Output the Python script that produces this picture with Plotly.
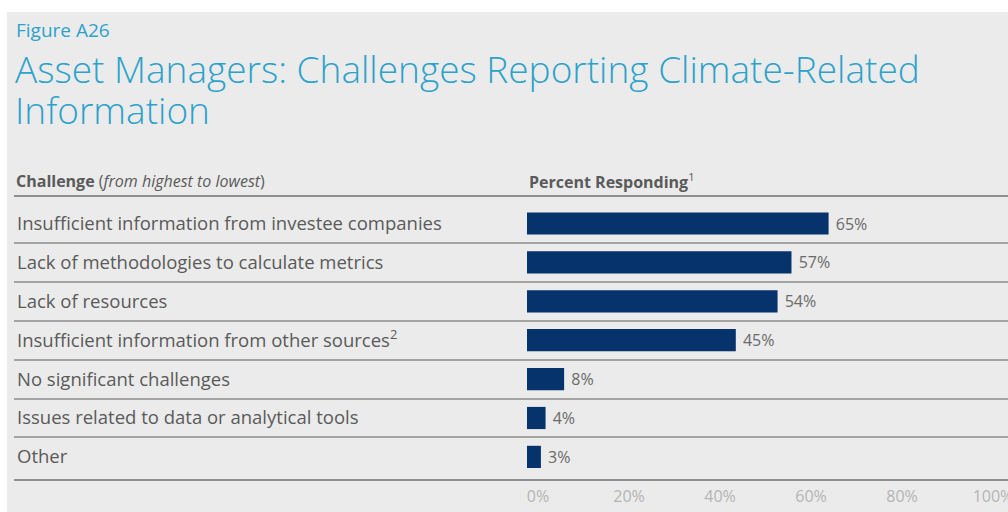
import plotly.graph_objects as go

# Data
challenges = [
    "Insufficient information from investee companies",
    "Lack of methodologies to calculate metrics",
    "Lack of resources",
    "Insufficient information from other sources<sup>2</sup>",
    "No significant challenges",
    "Issues related to data or analytical tools",
    "Other",
]
percent_responding = [65, 57, 54, 45, 8, 4, 3]
axis_ticks = [0, 20, 40, 60, 80, 100]
axis_tick_labels = ["0%", "20%", "40%", "60%", "80%", "100%"]

COLORS = {
    'bg': '#ebebeb',
    'title': '#2ba2cb',
    'bar': '#07336d',
    'text': '#5a5a5a',
    'value': '#6a6a6a',
    'rule': '#a3a3a3',
    'tick': '#b4b4b4',
}
FONT = "Open Sans, Noto Sans, sans-serif"

W, H = 1008, 512
rows = list(range(len(challenges)))

fig = go.Figure()

fig.add_trace(go.Bar(
    x=percent_responding,
    y=rows,
    orientation='h',
    width=0.57,
    marker=dict(color=COLORS['bar'], line=dict(width=0)),
    text=[f" {v}%" for v in percent_responding],
    textposition='outside',
    textfont=dict(size=16, color=COLORS['value'], family=FONT),
    cliponaxis=False,
    hoverinfo='skip',
    showlegend=False,
))

# invisible trace so the label axis gets drawn
fig.add_trace(go.Scatter(
    x=[axis_ticks[0], axis_ticks[-1]], y=[rows[0], rows[0]],
    xaxis='x2', mode='markers', marker=dict(opacity=0, size=1),
    hoverinfo='skip', showlegend=False,
))

# pixel geometry helpers
left_px, zero_px, px_per_pct = 14, 527, 4.64
lab_zero_px, lab_px_per_pct = 538, 4.55
top_px, bottom_px = 197, 479
row0_px, row_px = 223.5, 38.9

fig.update_layout(
    width=W, height=H,
    margin=dict(l=0, r=0, t=0, b=0),
    paper_bgcolor='white',
    plot_bgcolor='rgba(0,0,0,0)',
    font=dict(family=FONT, color=COLORS['text']),
    xaxis=dict(
        domain=[left_px / W, 1],
        range=[-(zero_px - left_px) / px_per_pct, (W - zero_px) / px_per_pct],
        showticklabels=False, showgrid=False, zeroline=False,
        showline=True, mirror=True, linecolor='#8f8f8f', linewidth=1.5,
        automargin=False, fixedrange=True,
    ),
    xaxis2=dict(
        domain=[left_px / W, 1],
        overlaying='x', anchor='y', side='bottom',
        range=[-(lab_zero_px - left_px) / lab_px_per_pct, (W - lab_zero_px) / lab_px_per_pct],
        tickmode='array', tickvals=axis_ticks, ticktext=axis_tick_labels,
        tickfont=dict(size=16, color=COLORS['tick'], family=FONT),
        ticks='', ticklabelstandoff=6, ticklabeloverflow='allow',
        showgrid=False, zeroline=False, showline=False,
        automargin=False, fixedrange=True,
    ),
    yaxis=dict(
        domain=[1 - bottom_px / H, 1 - top_px / H],
        range=[(bottom_px - row0_px) / row_px, -(row0_px - top_px) / row_px],
        tickmode='array', tickvals=rows, ticktext=challenges,
        ticklabelposition='inside', ticklabelstandoff=0, ticks='',
        tickfont=dict(size=18.5, color=COLORS['text'], family=FONT),
        showgrid=False, zeroline=False, showline=False,
        minor=dict(tickmode='array', tickvals=[r + 0.5 for r in rows[:-1]],
                   showgrid=True, gridcolor=COLORS['rule'], gridwidth=1.5, ticks=''),
        automargin=False, fixedrange=True,
    ),
    shapes=[
        dict(type='rect', xref='paper', yref='paper', x0=7 / W, x1=1, y0=0, y1=1 - 12 / H,
             fillcolor=COLORS['bg'], line=dict(width=0), layer='below'),
    ],
    annotations=[
        dict(text="Figure A26", xref='paper', yref='paper', x=14 / W, y=1 - 30 / H,
             xanchor='left', yanchor='middle', showarrow=False,
             font=dict(size=19, color=COLORS['title'], family=FONT)),
        dict(text="Asset Managers: Challenges Reporting Climate-Related", xref='paper', yref='paper',
             x=13 / W, y=1 - 68 / H, xanchor='left', yanchor='middle', showarrow=False,
             font=dict(size=37, color=COLORS['title'], family=FONT, weight=300)),
        dict(text="Information", xref='paper', yref='paper',
             x=13 / W, y=1 - 109 / H, xanchor='left', yanchor='middle', showarrow=False,
             font=dict(size=37, color=COLORS['title'], family=FONT, weight=300)),
        dict(text="<b>Challenge</b> (<i>from highest to lowest</i>)", xref='paper', yref='paper',
             x=14 / W, y=1 - 181 / H, xanchor='left', yanchor='middle', showarrow=False,
             font=dict(size=16, color=COLORS['text'], family=FONT)),
        dict(text="<b>Percent Responding</b><sup>1</sup>", xref='paper', yref='paper',
             x=zero_px / W, y=1 - 181 / H, xanchor='left', yanchor='middle', showarrow=False,
             font=dict(size=16, color=COLORS['text'], family=FONT)),
    ],
)

# drop the browser's default body margin so the figure sits at the window origin
fig.write_html("out.html", config={'displayModeBar': False},
               post_script="document.body.style.margin='0';")
